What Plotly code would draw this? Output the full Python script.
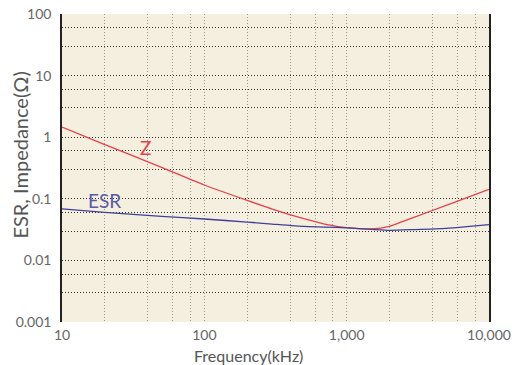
import plotly.graph_objects as go
import numpy as np

# Frequency (kHz)
freq_khz = [10, 20, 50, 100, 200, 300, 500, 700, 1000, 1500, 2000, 3000, 5000, 7000, 10000]
# Impedance |Z| (ohm)
z_ohm = [1.455, 0.76, 0.324, 0.1675, 0.0942, 0.0681, 0.0475, 0.0389, 0.0341,
         0.0325, 0.0358, 0.0505, 0.0782, 0.1045, 0.1426]
# Equivalent series resistance (ohm)
esr_ohm = [0.0686, 0.0600, 0.0518, 0.0470, 0.0419, 0.0389, 0.0356, 0.0348, 0.0337,
           0.0319, 0.0308, 0.0317, 0.0332, 0.0354, 0.0382]

x_ticks = [10, 100, 1000, 10000]
x_tick_text = ["10", "100", "1,000", "10,000"]
y_ticks = [0.001, 0.01, 0.1, 1, 10, 100]
y_tick_text = ["0.001", "0.01", "0.1", "1", "10", "100"]

# grid positions inside the plot (edges carry the frame / nothing)
x_grid = [m * d for d in (10, 100, 1000) for m in (1, 2, 4, 6, 8)][1:]
y_grid = [m * d for d in (0.001, 0.01, 0.1, 1, 10) for m in (1, 3, 6)][1:]

FONT = "Lato"
fig = go.Figure()
fig.add_trace(go.Scatter(x=freq_khz, y=z_ohm, mode="lines", name="Z",
                         line=dict(color="#E8414B", width=1.3, shape="spline", smoothing=0.5)))
fig.add_trace(go.Scatter(x=freq_khz, y=esr_ohm, mode="lines", name="ESR",
                         line=dict(color="#3F3F9A", width=1.3, shape="spline", smoothing=0.5)))

# curve labels
fig.add_annotation(x=np.log10(38.3), y=np.log10(0.69), text="Z", showarrow=False,
                   font=dict(family=FONT, size=19, color="#E8414B"))
fig.add_annotation(x=np.log10(20), y=np.log10(0.094), text="ESR", showarrow=False,
                   font=dict(family=FONT, size=19, color="#5A5AA8"))

# axis titles
fig.add_annotation(xref="paper", yref="paper", x=0.4356, y=-0.109, text="Frequency(kHz)",
                   xanchor="center", yanchor="middle",
                   showarrow=False, font=dict(family=FONT, size=16, color="#555555"))
fig.add_annotation(xref="paper", yref="paper", x=-0.0972, y=0.542, text="ESR, Impedance(Ω)",
                   xanchor="center", yanchor="middle",
                   textangle=-90, showarrow=False, font=dict(family=FONT, size=20, color="#555555"))

fig.update_layout(
    width=517, height=365,
    margin=dict(l=62, r=28, t=14, b=43),
    paper_bgcolor="white",
    plot_bgcolor="#F5EFDF",
    showlegend=False,
    font=dict(family=FONT, color="#555555"),
    xaxis=dict(
        type="log", range=[1, 4], automargin=False,
        tickmode="array", tickvals=x_ticks, ticktext=x_tick_text,
        tickfont=dict(size=14, color="#666666"), ticklabelstandoff=3,
        ticks="", showline=False, zeroline=False, showgrid=False,
        minor=dict(tickmode="array", tickvals=x_grid, showgrid=True, ticks="",
                   gridcolor="#999999", griddash="1px,2px", gridwidth=1),
    ),
    yaxis=dict(
        type="log", range=[-3, 2], automargin=False,
        tickmode="array", tickvals=y_ticks, ticktext=y_tick_text,
        tickfont=dict(size=14, color="#666666"), ticklabelstandoff=6,
        ticks="", showline=True, linecolor="#222222", linewidth=1.5, mirror=True,
        zeroline=False, showgrid=False,
        minor=dict(tickmode="array", tickvals=y_grid, showgrid=True, ticks="",
                   gridcolor="#333333", griddash="1px,2px", gridwidth=1),
    ),
)

fig.write_html("out.html", config={"displayModeBar": False})
